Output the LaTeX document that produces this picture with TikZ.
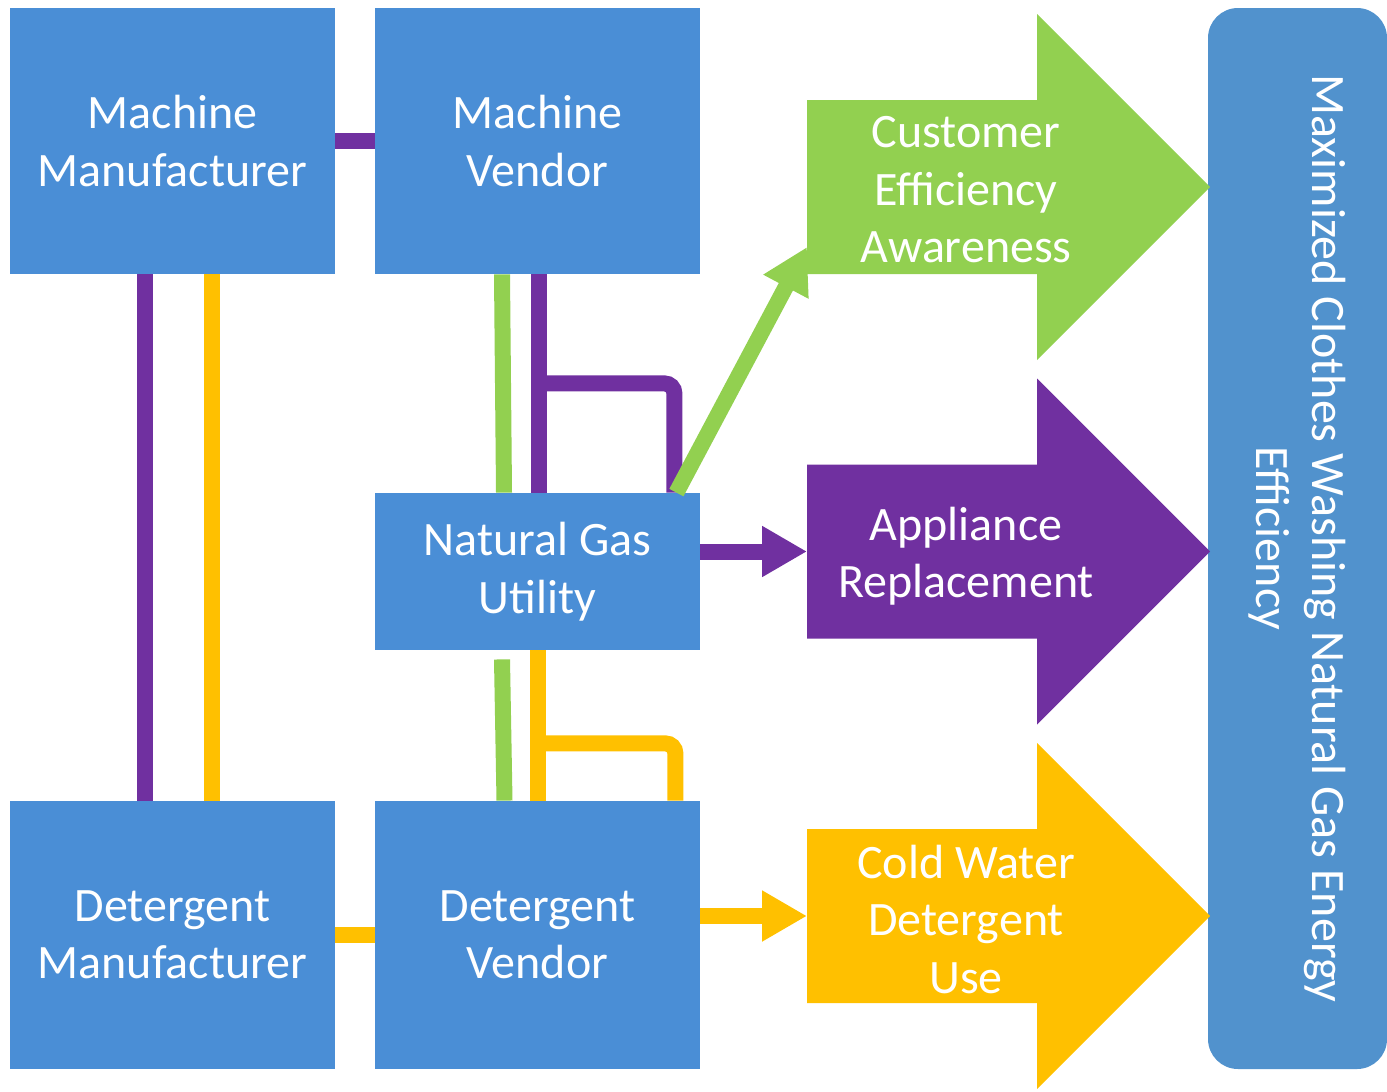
\documentclass[tikz,border=0pt]{standalone}
\usepackage{fontspec}
\setmainfont{Carlito}
\usepackage{xcolor}
\usepackage{tikz}
\usetikzlibrary{arrows.meta}

\definecolor{boxblue}{HTML}{4A8ED6}
\definecolor{barblue}{HTML}{5192CD}
\definecolor{effgreen}{HTML}{92D050}
\definecolor{replpurple}{HTML}{7030A0}
\definecolor{coldyellow}{HTML}{FFC000}

\begin{document}
\begin{tikzpicture}[x=0.5pt, y=-0.5pt,
    actor/.style={rectangle, fill=boxblue, inner sep=0pt, minimum width=162.5pt, text=white, align=center, font=\fontsize{24pt}{28.75pt}\selectfont},
    outcome/.style={inner sep=0pt, text=white, align=center, font=\fontsize{24pt}{28.75pt}\selectfont},
    link/.style={line width=8pt},
    push/.style={line width=8pt, -{Triangle[length=22.5pt, width=24pt]}}]
    \useasboundingbox (0,0) rectangle (1387,1092);

    % Goal bar
    \node[rectangle, rounded corners=15pt, fill=barblue, rotate=-90, minimum width=530.5pt, minimum height=89.5pt, text=white, align=center, font=\fontsize{24pt}{28pt}\selectfont] (goal) at (1297.5,538.5) {Maximized Clothes Washing Natural Gas Energy\\Efficiency};

    % Outcome 1
    \fill[effgreen] (807,100) -- (1037,100) -- (1037,14) -- (1210,187) -- (1037,360) -- (1037,274) -- (807,274) -- cycle;
    \coordinate (cea-in) at (807,247);
    \node[outcome] (cea) at (966,190) {Customer\\Efficiency\\Awareness};

    % Outcome 2
    \fill[replpurple] (807,464.5) -- (1037,464.5) -- (1037,378.5) -- (1210,551.5) -- (1037,724.5) -- (1037,638.5) -- (807,638.5) -- cycle;
    \coordinate (ar-in) at (807,551.5);
    \node[outcome] (ar) at (966,556) {Appliance\\Replacement};

    % Outcome 3
    \fill[coldyellow] (807,829) -- (1037,829) -- (1037,743) -- (1210,916) -- (1037,1089) -- (1037,1003) -- (807,1003) -- cycle;
    \coordinate (cwd-in) at (807,916);
    \node[outcome] (cwd) at (966,919) {Cold Water\\Detergent\\Use};

    % Actors
    \node[actor, minimum height=133pt] (mm) at (172.5,141) {Machine\\Manufacturer};
    \node[actor, minimum height=133pt] (mv) at (537.5,141) {Machine\\Vendor};
    \node[actor, minimum height=78.5pt] (ngu) at (537.5,571.5) {Natural Gas\\Utility};
    \node[actor, minimum height=134pt] (dm) at (172.5,935) {Detergent\\Manufacturer};
    \node[actor, minimum height=134pt] (dv) at (537.5,935) {Detergent\\Vendor};

    % Links
    \draw[link, replpurple] (mm.east) -- (mv.west);
    \draw[link, coldyellow] (dm.east) -- (dv.west);
    \draw[link, replpurple] ([xshift=-13.75pt]mm.south) -- ([xshift=-13.75pt]dm.north);
    \draw[link, coldyellow] ([xshift=19.75pt]mm.south) -- ([xshift=19.75pt]dm.north);
    \draw[link, effgreen] ([xshift=-17.75pt]mv.south) -- ([xshift=-16.75pt]ngu.north);
    \draw[link, effgreen] ([xshift=-17.75pt, yshift=-4.5pt]ngu.south) -- ([xshift=-16.5pt]dv.north);
    \draw[link, replpurple] ([xshift=0.75pt]mv.south) -- ([xshift=0.75pt]ngu.north);
    \draw[link, replpurple, rounded corners=5pt] ([xshift=0.75pt, yshift=-54.5pt]mv.south) -| ([xshift=-13pt]ngu.north east);
    \draw[link, coldyellow] (ngu.south) -- (dv.north);
    \draw[link, coldyellow, rounded corners=5pt] ([yshift=-46.5pt]ngu.south) -| ([xshift=-12.5pt]dv.north east);

    % Arrows to outcomes
    \draw[push, effgreen] ([xshift=-12pt]ngu.north east) -- (cea-in);
    \draw[push, replpurple] ([yshift=10pt]ngu.east) -- (ar-in);
    \draw[push, coldyellow] ([yshift=9.5pt]dv.east) -- (cwd-in);
\end{tikzpicture}
\end{document}
